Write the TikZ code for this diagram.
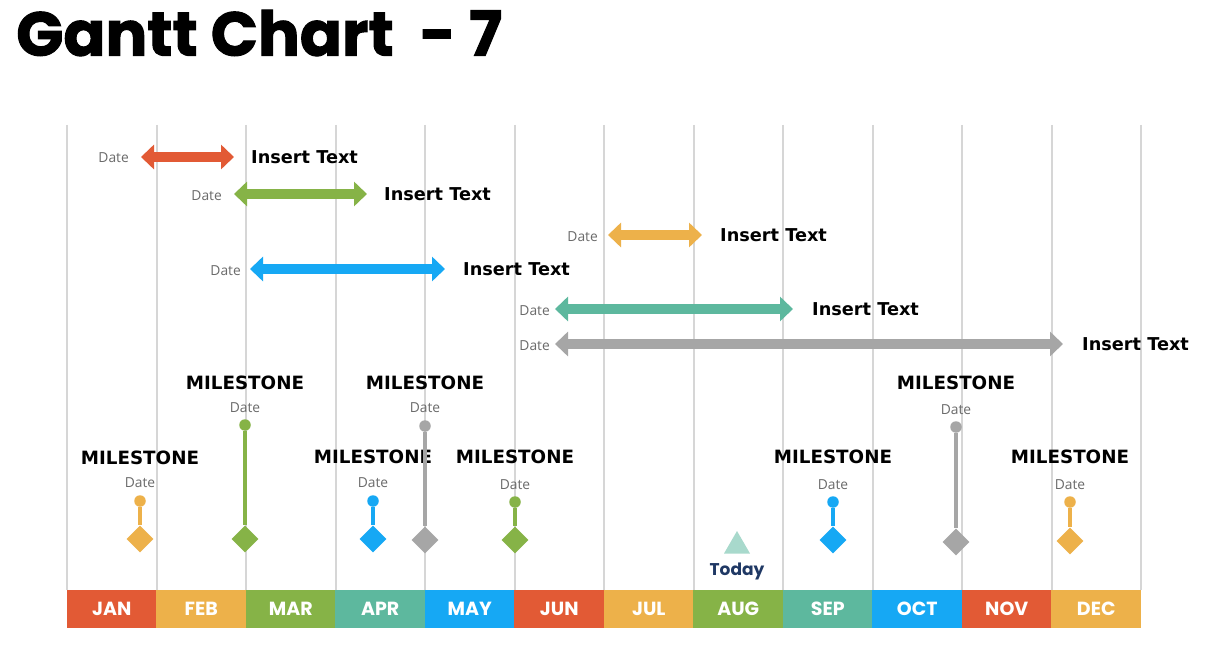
\documentclass[tikz,border=0pt]{standalone}
\usepackage{fontspec}
\setmainfont{DejaVu Sans}
\newfontfamily\popfont{Poppins}
\newfontfamily\titlefont{Poppins}[BoldFeatures={FakeBold=1.6}]
\newfontfamily\datefont{Open Sans}
\usetikzlibrary{shapes.geometric,arrows.meta}
\definecolor{cred}{HTML}{E25A35}
\definecolor{cyel}{HTML}{EDB14A}
\definecolor{cgrn}{HTML}{86B347}
\definecolor{ctea}{HTML}{5DB89E}
\definecolor{cblu}{HTML}{16A8F4}
\definecolor{cgry}{HTML}{A6A6A6}
\definecolor{ctri}{HTML}{A8D9CC}
\definecolor{cnav}{HTML}{1F3864}
\definecolor{cgrid}{HTML}{D6D6D6}
\definecolor{cdate}{HTML}{6A6A6A}
\begin{document}
\begin{tikzpicture}[x=1pt,y=-1pt,
  grid/.style={draw=cgrid,line width=2pt},
  month/.style={minimum width=89.6pt,minimum height=38pt,inner sep=0pt,text=white,
    font=\popfont\bfseries\fontsize{19}{20}\selectfont},
  garrow/.style={line width=10pt,{Triangle[width=24pt,length=13pt]}-{Triangle[width=24pt,length=13pt]}},
  datel/.style={inner sep=0pt,text=cdate,font=\datefont\fontsize{13.8}{14}\selectfont},
  instext/.style={inner sep=0pt,anchor=west,font=\bfseries\fontsize{17.7}{18}\selectfont},
  mile/.style={inner sep=0pt,font=\bfseries\fontsize{18.3}{19}\selectfont},
  dia/.style={diamond,inner sep=0pt,minimum width=27pt,minimum height=27pt},
  dot/.style={circle,inner sep=0pt,minimum size=11.5pt},
  stem/.style={line width=4pt}]
\useasboundingbox (0,0) rectangle (1215,671);
\fill[white] (0,0) rectangle (1215,671);

% title
\node[anchor=west,inner sep=0pt,font=\titlefont\bfseries\fontsize{62}{64}\selectfont] (title) at (16,33) {Gantt Chart\ \ - 7};

% grid lines
\foreach \i in {0,...,12} \draw[grid] ({67+89.5*\i},125) -- ({67+89.5*\i},590);

% months
\foreach \m/\c [count=\i from 0] in {JAN/cred,FEB/cyel,MAR/cgrn,APR/ctea,MAY/cblu,JUN/cred,JUL/cyel,AUG/cgrn,SEP/ctea,OCT/cblu,NOV/cred,DEC/cyel}
  \node[month,fill=\c] (m\i) at ({67+89.5*\i+44.75},609) {\m};

% bars
\node[datel,anchor=east] (d1) at (129,158) {Date};
\coordinate (a1s) at (141,157); \coordinate (a1e) at (234,157);
\draw[garrow,cred] (a1s) -- (a1e);
\node[instext] (t1) at (251,157) {Insert Text};

\node[datel,anchor=east] (d2) at (222,196) {Date};
\coordinate (a2s) at (234,194); \coordinate (a2e) at (367,194);
\draw[garrow,cgrn] (a2s) -- (a2e);
\node[instext] (t2) at (384,194) {Insert Text};

\node[datel,anchor=east] (d3) at (598,237) {Date};
\coordinate (a3s) at (608,235); \coordinate (a3e) at (702,235);
\draw[garrow,cyel] (a3s) -- (a3e);
\node[instext] (t3) at (720,235) {Insert Text};

\node[datel,anchor=east] (d4) at (241,271) {Date};
\coordinate (a4s) at (250,269); \coordinate (a4e) at (445,269);
\draw[garrow,cblu] (a4s) -- (a4e);
\node[instext] (t4) at (463,269) {Insert Text};

\node[datel,anchor=east] (d5) at (550,311) {Date};
\coordinate (a5s) at (555,309); \coordinate (a5e) at (793,309);
\draw[garrow,ctea] (a5s) -- (a5e);
\node[instext] (t5) at (812,309) {Insert Text};

\node[datel,anchor=east] (d6) at (550,346) {Date};
\coordinate (a6s) at (555,344); \coordinate (a6e) at (1063,344);
\draw[garrow,cgry] (a6s) -- (a6e);
\node[instext] (t6) at (1082,344) {Insert Text};

% milestones
\foreach \k/\x/\py/\dy/\c/\ty/\my in {
  1/140/501/539/cyel/483/458,
  2/245/425/539/cgrn/408/383,
  3/373/501/539/cblu/483/457,
  4/425/426/540/cgry/408/383,
  5/515/502/540/cgrn/485/457,
  6/833/502/540/cblu/485/457,
  7/956/427/542/cgry/410/383,
  8/1070/502/541/cyel/485/457}{
  \node[dot,fill=\c] (mp\k) at (\x,\py) {};
  \node[dia,fill=\c] (md\k) at (\x,\dy) {};
  \draw[stem,\c] (mp\k) -- (md\k);
  \node[datel] (mt\k) at (\x,\ty) {Date};
  \node[mile] (ml\k) at (\x,\my) {MILESTONE};
}

% today
\node[regular polygon,regular polygon sides=3,fill=ctri,inner sep=0pt,minimum size=30pt] (tri) at (737,546) {};
\node[inner sep=0pt,text=cnav,font=\popfont\bfseries\fontsize{17}{18}\selectfont] (today) at (737,571) {Today};
\end{tikzpicture}
\end{document}
